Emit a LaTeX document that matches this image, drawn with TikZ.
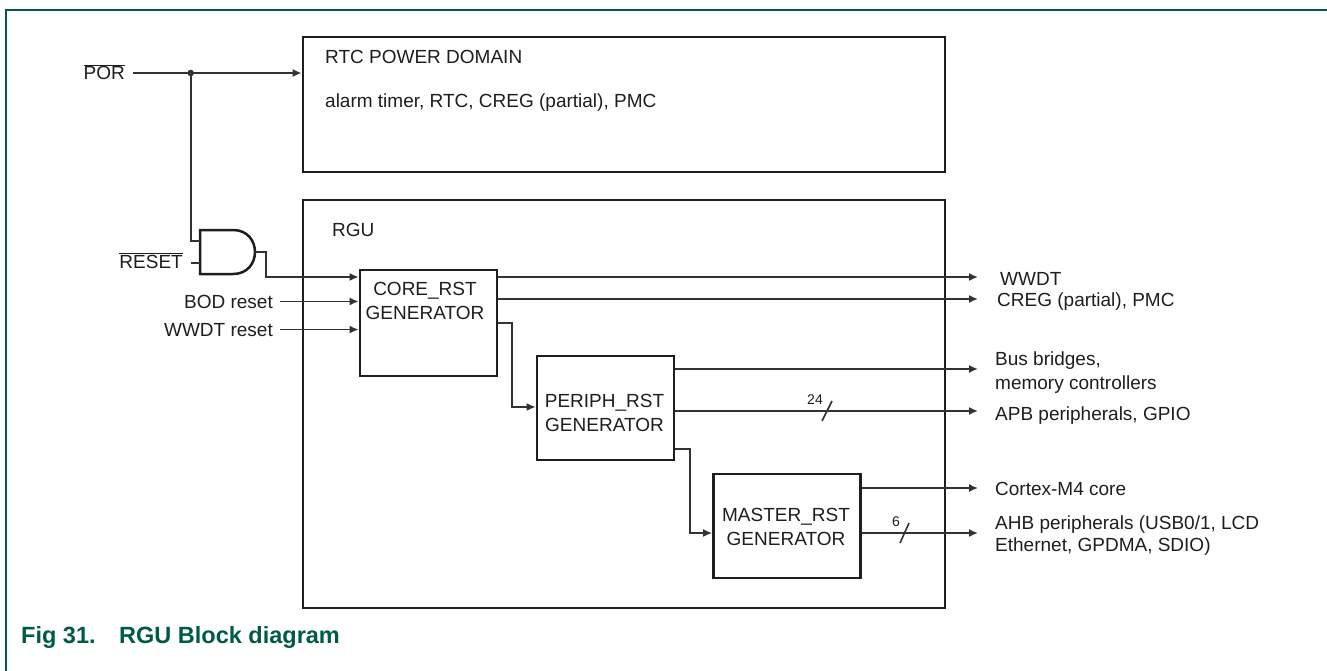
\documentclass[tikz,border=0pt]{standalone}
\usepackage{fontspec}
\setmainfont{Liberation Sans}
\usetikzlibrary{arrows.meta,calc}
\definecolor{nxpgreen}{RGB}{0,90,72}
\definecolor{ink}{RGB}{30,30,30}
\definecolor{wirec}{RGB}{50,50,50}
\begin{document}
\begin{tikzpicture}[x=1pt,y=-1pt,
  blk/.style={draw=ink, line width=2.8pt, inner sep=0pt},
  gateshape/.style={draw=ink, line width=2.5pt},
  wire/.style={draw=wirec, line width=1.6pt},
  arr/.style={wire, -{Latex[length=9pt,width=8pt]}},
  txt/.style={font=\fontsize{19}{24}\selectfont, text=ink, inner sep=0pt},
  small/.style={font=\fontsize{14}{16}\selectfont, text=ink, inner sep=0pt},
  captxt/.style={font=\fontsize{23.5}{27}\selectfont\bfseries, text=nxpgreen, inner sep=0pt, anchor=base west},
]
\useasboundingbox (0,0) rectangle (1327,671);
% frame
\draw[nxpgreen, line width=2pt] (6,671) -- (6,10.5) -- (1327,10.5);

% boxes
\node[blk, minimum width=642pt, minimum height=135pt] (rtc) at (624,104.5) {};
\node[blk, minimum width=642pt, minimum height=408pt] (rgu) at (624,404) {};
\node[blk, minimum width=137pt, minimum height=106pt] (core) at (428.5,323) {};
\node[blk, minimum width=137pt, minimum height=104pt] (periph) at (605.5,408) {};
\node[blk, minimum width=147pt, minimum height=104pt] (master) at (787,526) {};

% box texts
\node[txt, anchor=base west] (rtcT) at (325,63.5) {RTC POWER DOMAIN};
\node[txt, anchor=base west] (rtcL) at (325,108) {alarm timer, RTC, CREG (partial), PMC};
\node[txt, anchor=base west] (rguT) at (332,236) {RGU};
\node[txt, align=center] (coreT) at (425,301) {CORE\_RST\\GENERATOR};
\node[txt, align=center] (periphT) at (604.5,413) {PERIPH\_RST\\GENERATOR};
\node[txt, align=center] (masterT) at (786,527) {MASTER\_RST\\GENERATOR};

% left labels
\node[txt, anchor=base east] (por) at (125,80) {$\overline{\mbox{POR}}$};
\node[txt, anchor=base east] (reset) at (183,268) {$\overline{\mbox{RESET}}$};
\node[txt, anchor=base east] (bod) at (273,308) {BOD reset};
\node[txt, anchor=base east] (wwdtr) at (273,336) {WWDT reset};

% right labels
\node[txt, anchor=base west] (wwdt) at (1000,285) {WWDT};
\node[txt, anchor=base west] (creg) at (997,306) {CREG (partial), PMC};
\node[txt, anchor=base west] (bus1) at (995,365) {Bus bridges,};
\node[txt, anchor=base west] (bus2) at (995,389) {memory controllers};
\node[txt, anchor=base west] (apb) at (995,420) {APB peripherals, GPIO};
\node[txt, anchor=base west] (cortex) at (995,495) {Cortex-M4 core};
\node[txt, anchor=base west] (ahb1) at (995,529) {AHB peripherals (USB0/1, LCD};
\node[txt, anchor=base west] (ahb2) at (995,551) {Ethernet, GPDMA, SDIO)};

% bus width labels
\node[small] (n24) at (815,400) {24};
\node[small] (n6) at (896,522) {6};

% caption
\node[captxt] (fig) at (21,643) {Fig 31.};
\node[captxt] (capT) at (119,643) {RGU Block diagram};

% helper coordinates
\coordinate (porS) at (133,73);
\coordinate (j) at (190.7,73);
\coordinate (rS) at (191,263);
\coordinate (gin1) at (200,241);
\coordinate (gin2) at (200,263);
\coordinate (gout) at (255,252);
\coordinate (g1) at (266,252);
\coordinate (outx) at (978,0);
\coordinate (yA) at (0,277);
\coordinate (yC) at (0,299);
\coordinate (k1) at (512,323);
\coordinate (yPi) at (0,407);
\coordinate (yB) at (0,369);
\coordinate (yApb) at (0,411);
\coordinate (k2) at (690,449);
\coordinate (yMi) at (0,533);
\coordinate (yCx) at (0,488);

% AND gate
\draw[gateshape] (200,230) -- (233,230) .. controls (262.3,230) and (262.3,274) .. (233,274) -- (200,274) -- cycle;

% POR
\draw[arr] (porS) -- (porS -| rtc.west);
\fill[wirec] (j) circle (3.3pt);
\draw[wire] (j) |- (gin1);
\draw[wire] (rS) -- (gin2);

% core inputs
\draw[arr] (gout) -- (g1) |- (core.west |- yA);
\draw[arr] ([xshift=7pt]bod.east) -- (bod.east -| core.west);
\draw[arr] ([xshift=7pt]wwdtr.east) -- (wwdtr.east -| core.west);

% core outputs
\draw[arr] (core.east |- yA) -- (outx |- yA);
\draw[arr] (core.east |- yC) -- (outx |- yC);
\draw[arr] (core.east |- k1) -- (k1) |- (periph.west |- yPi);

% periph outputs
\draw[arr] (periph.east |- yB) -- (outx |- yB);
\draw[arr] (periph.east |- yApb) -- (outx |- yApb);
\draw[wire] (822,421) -- (832,401);
\draw[arr] (periph.east |- k2) -- (k2) |- (master.west |- yMi);

% master outputs
\draw[arr] (master.east |- yCx) -- (outx |- yCx);
\draw[arr] (master.east |- yMi) -- (outx |- yMi);
\draw[wire] (900,543) -- (909,523);
\end{tikzpicture}
\end{document}
